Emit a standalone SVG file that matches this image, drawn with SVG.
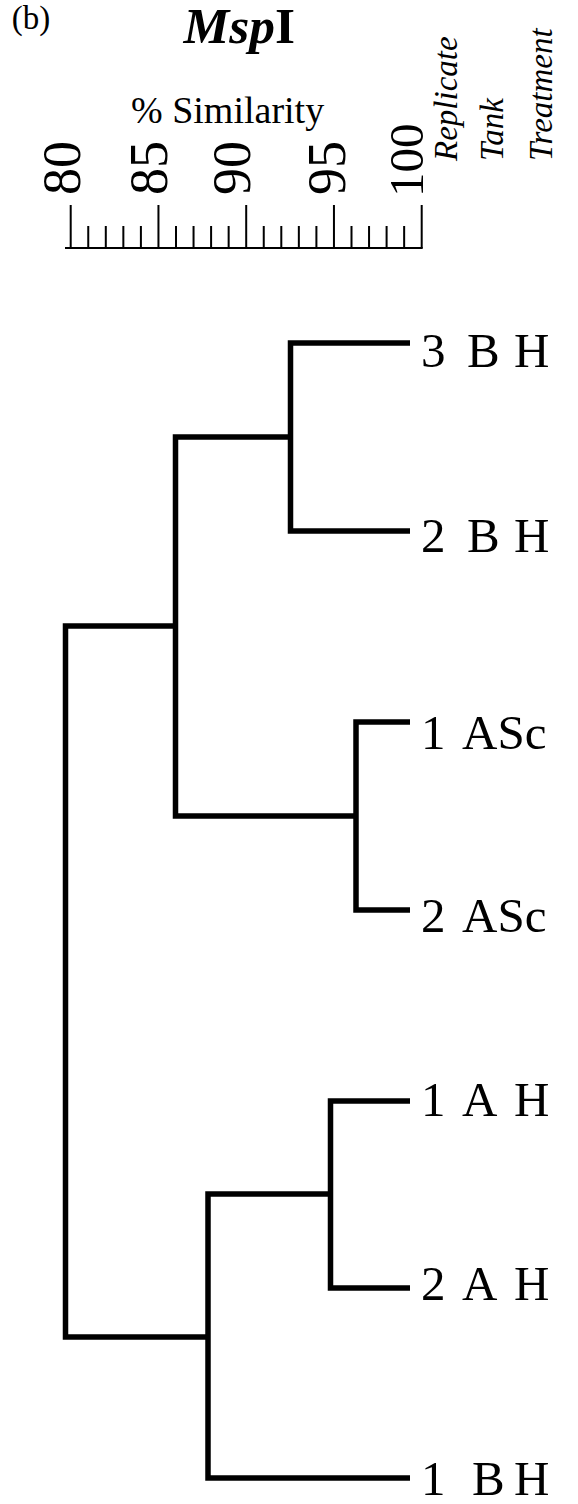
<svg xmlns="http://www.w3.org/2000/svg" width="578" height="1504" viewBox="0 0 578 1504">
<style>
text{font-family:"Liberation Serif","Times New Roman","DejaVu Serif",serif;fill:#000}
.lab{font-size:49px}
.hdr{font-size:33px;font-style:italic}
.tick{font-size:54px}
.tree{fill:none;stroke:#000;stroke-width:5.5;stroke-linejoin:miter;stroke-linecap:butt}
.ax{fill:none;stroke:#000;stroke-width:2}
</style>
<rect width="578" height="1504" fill="#fff"/>
<g font-family="Liberation Serif, Times New Roman, DejaVu Serif, serif">
<g id="title">
<text x="11.7" y="29.2" font-size="33">(b)</text>
<text x="183.5" y="43.3" font-size="51.5" font-weight="bold"><tspan font-style="italic">Msp</tspan>I</text>
</g>
<g id="axis">
<text x="131" y="123" font-size="38">% Similarity</text>
<path class="ax" d="M65,248 H422.7"/>
<path class="ax" d="M70.7,205 V248 M158.45,205 V248 M246.2,205 V248 M333.95,205 V248 M421.7,205 V248"/>
<path class="ax" d="M88.25,226 V248 M105.8,226 V248 M123.35,226 V248 M140.9,226 V248 M176,226 V248 M193.55,226 V248 M211.1,226 V248 M228.65,226 V248 M263.75,226 V248 M281.3,226 V248 M298.85,226 V248 M316.4,226 V248 M351.5,226 V248 M369.05,226 V248 M386.6,226 V248 M404.15,226 V248"/>
<text class="tick" transform="translate(79.5,195) rotate(-90)">80</text>
<text class="tick" transform="translate(166.5,195) rotate(-90)">85</text>
<text class="tick" transform="translate(249.5,195) rotate(-90)">90</text>
<text class="tick" transform="translate(344.5,195) rotate(-90)">95</text>
<text font-size="49" transform="translate(423,197) rotate(-90)">100</text>
</g>
<g id="headers">
<text class="hdr" transform="translate(457,161) rotate(-90)">Replicate</text>
<text class="hdr" transform="translate(503,161) rotate(-90)">Tank</text>
<text class="hdr" transform="translate(551.5,161) rotate(-90)">Treatment</text>
</g>
<g id="connectors">
<path class="tree" d="M410,343 H290.5 V531 H410"/>
<path class="tree" d="M410,722 H356 V910 H410"/>
<path class="tree" d="M290.5,437 H175.5 V816 H356"/>
<path class="tree" d="M410,1101 H330.5 V1288 H410"/>
<path class="tree" d="M330.5,1194 H208 V1478 H410"/>
<path class="tree" d="M175.5,626 H65.5 V1337 H208"/>
</g>
<g id="leaf-3BH"><text class="lab" y="367"><tspan x="421">3</tspan><tspan x="467">B</tspan><tspan x="514">H</tspan></text></g>
<g id="leaf-2BH"><text class="lab" y="552"><tspan x="421">2</tspan><tspan x="467">B</tspan><tspan x="514">H</tspan></text></g>
<g id="leaf-1ASc"><text class="lab" y="749"><tspan x="421">1</tspan><tspan x="462">ASc</tspan></text></g>
<g id="leaf-2ASc"><text class="lab" y="932"><tspan x="421">2</tspan><tspan x="462">ASc</tspan></text></g>
<g id="leaf-1AH"><text class="lab" y="1116"><tspan x="421">1</tspan><tspan x="462">A</tspan><tspan x="514">H</tspan></text></g>
<g id="leaf-2AH"><text class="lab" y="1300"><tspan x="421">2</tspan><tspan x="462">A</tspan><tspan x="514">H</tspan></text></g>
<g id="leaf-1BH"><text class="lab" y="1495"><tspan x="421">1</tspan><tspan x="472">B</tspan><tspan x="514">H</tspan></text></g>
</g>
</svg>
